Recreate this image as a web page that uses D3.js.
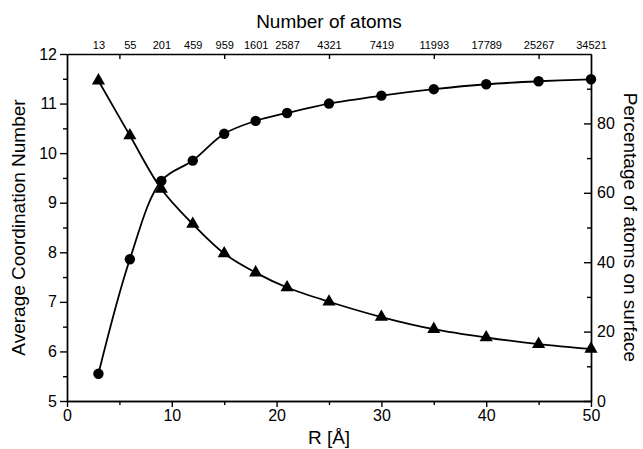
<!DOCTYPE html>
<html>
<head>
<meta charset="utf-8">
<script src="https://cdn.jsdelivr.net/npm/d3@7"></script>
<style>
  body { margin: 0; background: #fff; }
  svg { display: block; font-family: "Liberation Sans", Arial, sans-serif; }
  .axis path, .axis line { stroke: #000; stroke-width: 1.4; }
  .axis text { fill: #000; }
</style>
</head>
<body>
<svg id="chart"></svg>
<script>
// data
const radius = [3, 6, 9, 12, 15, 18, 21, 25, 30, 35, 40, 45, 50];
const atoms = [13, 55, 201, 459, 959, 1601, 2587, 4321, 7419, 11993, 17789, 25267, 34521];
const coordination = [5.55, 7.86, 9.44, 9.85, 10.39, 10.65, 10.81, 11.0, 11.16, 11.29, 11.39, 11.45, 11.49];
const surfacePct = [92.3, 76.5, 61.1, 51.0, 42.5, 37.0, 32.7, 28.6, 24.2, 20.7, 18.3, 16.4, 15.0];

const leftTicks = [5, 6, 7, 8, 9, 10, 11, 12];
const rightTicks = [0, 20, 40, 60, 80];
const bottomTicks = [0, 10, 20, 30, 40, 50];

const width = 643, height = 449;
const margin = { top: 54, right: 52, bottom: 48, left: 67 };
const w = width - margin.left - margin.right;
const h = height - margin.top - margin.bottom;

const svg = d3.select("#chart").attr("width", width).attr("height", height);
const g = svg.append("g").attr("transform", `translate(${margin.left},${margin.top})`);

const x = d3.scaleLinear().domain([0, 50]).range([0, w]);
const yL = d3.scaleLinear().domain([5, 12]).range([h, 0]);
const yR = d3.scaleLinear().domain([0, 100]).range([h, 0]);

// bottom axis
g.append("g").attr("class", "axis").attr("transform", `translate(0,${h})`)
  .call(d3.axisBottom(x).tickValues(d3.range(5, 50, 10)).tickSize(4).tickSizeOuter(0).tickFormat(""));
g.append("g").attr("class", "axis").attr("transform", `translate(0,${h})`)
  .call(d3.axisBottom(x).tickValues(bottomTicks).tickSize(6).tickSizeOuter(0).tickPadding(3).tickFormat(d3.format("d")))
  .selectAll("text").style("font-size", "16px");

// left axis
g.append("g").attr("class", "axis")
  .call(d3.axisLeft(yL).tickValues(d3.range(5.5, 12, 1)).tickSize(4).tickSizeOuter(0).tickFormat(""));
g.append("g").attr("class", "axis")
  .call(d3.axisLeft(yL).tickValues(leftTicks).tickSize(7).tickSizeOuter(0).tickPadding(3).tickFormat(d3.format("d")))
  .selectAll("text").style("font-size", "16px");

// right axis, ticks pointing inward
g.append("g").attr("class", "axis").attr("transform", `translate(${w},0)`)
  .call(d3.axisRight(yR).tickValues(d3.range(10, 100, 20)).tickSize(-4).tickSizeOuter(0).tickFormat(""));
g.append("g").attr("class", "axis").attr("transform", `translate(${w},0)`)
  .call(d3.axisRight(yR).tickValues(rightTicks).tickSize(-7).tickSizeOuter(0).tickPadding(6).tickFormat(d3.format("d")))
  .selectAll("text").style("font-size", "16px");

// top axis: inward ticks plus atom counts
g.append("g").attr("class", "axis")
  .call(d3.axisTop(x).tickValues(d3.range(5, 50, 10)).tickSize(-5).tickSizeOuter(0).tickFormat(""));
g.append("g").attr("class", "axis")
  .call(d3.axisTop(x).tickValues(radius).tickSize(0).tickSizeOuter(0).tickPadding(5)
    .tickFormat((d, i) => atoms[i]))
  .call(a => a.select(".domain").remove())
  .selectAll("text").style("font-size", "11px");

// curves
const lineL = d3.line().x((d, i) => x(radius[i])).y(d => yL(d)).curve(d3.curveCatmullRom);
const lineR = d3.line().x((d, i) => x(radius[i])).y(d => yR(d)).curve(d3.curveCatmullRom);

g.append("path").datum(coordination).attr("d", lineL)
  .attr("fill", "none").attr("stroke", "#000").attr("stroke-width", 1.8);
g.append("path").datum(surfacePct).attr("d", lineR)
  .attr("fill", "none").attr("stroke", "#000").attr("stroke-width", 1.8);

g.selectAll(".dot").data(coordination).enter().append("circle")
  .attr("class", "dot")
  .attr("cx", (d, i) => x(radius[i]))
  .attr("cy", d => yL(d))
  .attr("r", 5.2)
  .attr("fill", "#000");

g.selectAll(".tri").data(surfacePct).enter().append("path")
  .attr("class", "tri")
  .attr("d", d3.symbol().type(d3.symbolTriangle).size(75))
  .attr("transform", (d, i) => `translate(${x(radius[i])},${yR(d)})`)
  .attr("fill", "#000");

// axis titles
svg.append("text")
  .attr("x", margin.left + w / 2).attr("y", 28)
  .attr("text-anchor", "middle").style("font-size", "19px")
  .text("Number of atoms");

svg.append("text")
  .attr("x", margin.left + w / 2).attr("y", 444)
  .attr("text-anchor", "middle").style("font-size", "19px")
  .text("R [Å]");

svg.append("text")
  .attr("transform", `translate(25,${margin.top + h / 2}) rotate(-90)`)
  .attr("text-anchor", "middle").style("font-size", "19px")
  .text("Average Coordination Number");

svg.append("text")
  .attr("transform", `translate(624,${margin.top + h / 2}) rotate(90)`)
  .attr("text-anchor", "middle").style("font-size", "19px")
  .text("Percentage of atoms on surface");
</script>
</body>
</html>
